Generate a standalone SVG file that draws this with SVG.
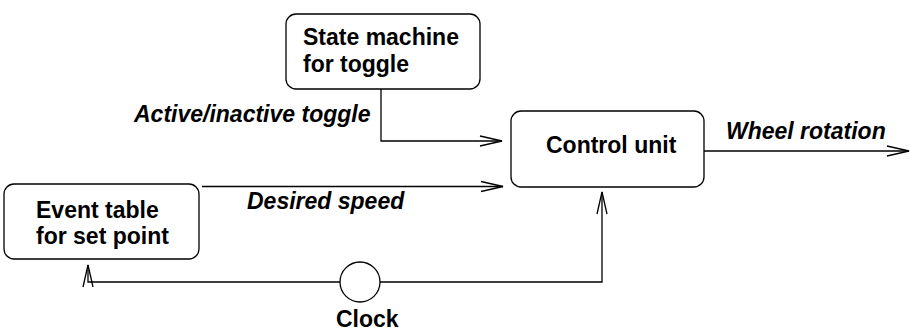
<svg xmlns="http://www.w3.org/2000/svg" width="911" height="331" viewBox="0 0 911 331">
  <style>
    .box { fill: #fff; stroke: #000; stroke-width: 1.3; }
    .lbl { font-family: "Liberation Sans", Arial, sans-serif; font-weight: bold; font-size: 23px; fill: #000; }
    .it { font-style: italic; }
    .wire { fill: none; stroke: #000; stroke-width: 1.3; }
  </style>
  <defs>
    <marker id="open" markerUnits="userSpaceOnUse" markerWidth="24" markerHeight="12" refX="22" refY="5" orient="auto" overflow="visible">
      <path d="M0,0 L22,5 L0,10" fill="none" stroke="#000" stroke-width="1.3"/>
    </marker>
  </defs>

  <g id="connectors">
    <path class="wire" d="M381,89 V141 H502" marker-end="url(#open)"/>
    <path class="wire" d="M202,186.5 H503" marker-end="url(#open)"/>
    <path class="wire" d="M704,151 H909" marker-end="url(#open)"/>
    <path class="wire" d="M380,282 H602 V192" marker-end="url(#open)"/>
    <path class="wire" d="M340,282 H88 V265" marker-end="url(#open)"/>
    <text class="lbl it" x="134" y="122">Active/inactive toggle</text>
    <text class="lbl it" x="247" y="209">Desired speed</text>
    <text class="lbl it" x="726" y="139">Wheel rotation</text>
  </g>

  <g id="state-machine">
    <rect class="box" x="286" y="14" width="194" height="75" rx="10"/>
    <text class="lbl" x="303" y="45">State machine</text>
    <text class="lbl" x="303" y="72">for toggle</text>
  </g>

  <g id="control-unit">
    <rect class="box" x="511" y="111" width="193" height="76" rx="10"/>
    <text class="lbl" x="546" y="153">Control unit</text>
  </g>

  <g id="event-table">
    <rect class="box" x="4" y="184" width="195" height="75" rx="10"/>
    <text class="lbl" x="36" y="218">Event table</text>
    <text class="lbl" x="36" y="244">for set point</text>
  </g>

  <g id="clock">
    <circle class="box" cx="360" cy="282" r="20"/>
    <text class="lbl" x="336" y="327">Clock</text>
  </g>
</svg>
